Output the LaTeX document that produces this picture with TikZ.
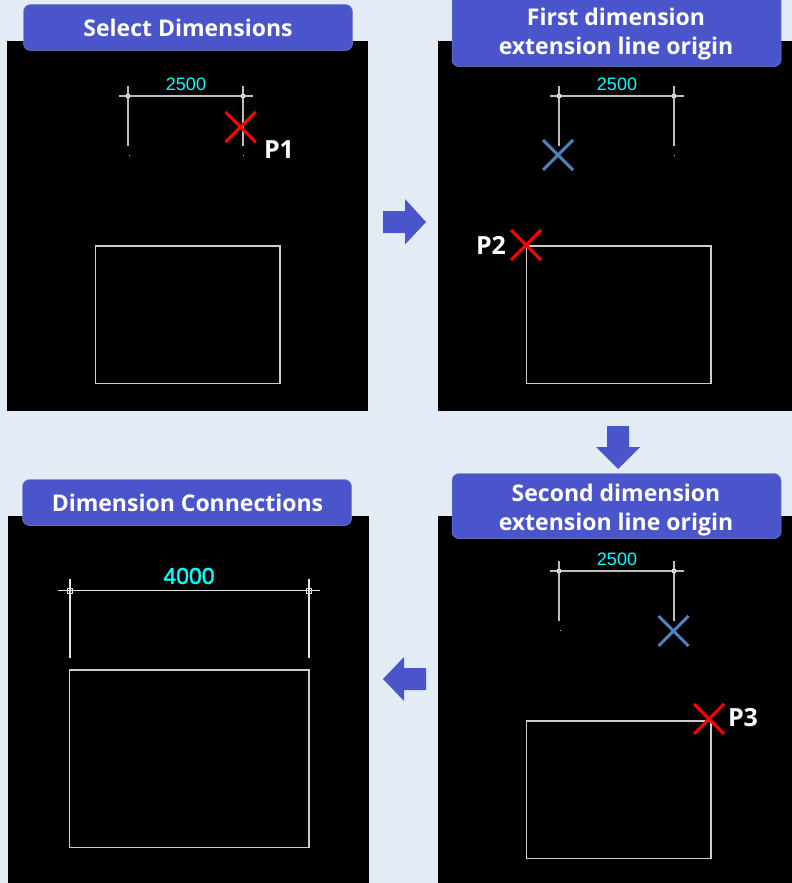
\documentclass[tikz,border=0pt]{standalone}
\usepackage{fontspec}
\setmainfont{Open Sans}
\newfontfamily\cadfont{Liberation Sans}
\newfontfamily\cadbold[FakeBold=1.5]{Liberation Sans}
\definecolor{pagebg}{HTML}{E3EBF5}
\definecolor{titleblue}{HTML}{4A55CC}
\definecolor{titleedge}{HTML}{7F88DC}
\definecolor{crossblue}{HTML}{4F81BD}
\definecolor{cadline}{HTML}{BEBEBE}
\definecolor{cadcyan}{HTML}{00FFFF}
\tikzset{
  panel/.style={fill=black,draw=none},
  titlebox/.style={fill=titleblue,draw=titleedge,line width=0.5pt,rounded corners=7pt},
  titletext/.style={text=white,font=\fontsize{23}{29}\selectfont\bfseries,align=center,inner sep=0pt},
  flowarrow/.style={fill=titleblue,draw=none},
  cadthin/.style={draw=cadline,line width=1.2pt},
  cadrect/.style={draw=white!80!black,line width=1.3pt},
  cadsq/.style={draw=white!90!black,line width=0.9pt},
  redcross/.style={draw=red,line width=3pt},
  bluecross/.style={draw=crossblue,line width=3pt},
  dimtext/.style={text=cadcyan,font=\cadfont\fontsize{18}{18}\selectfont,inner sep=0pt},
  ptlabel/.style={text=white,font=\fontsize{25}{28}\selectfont\bfseries,inner sep=0pt},
  tick/.style={fill=white!80!black,draw=none},
}
\newcommand{\smalldim}[3]{%
  % #1 = x of left extension line, #2 = y of dimension line, #3 = name prefix
  \draw[cadthin] (#1-9,#2) -- (#1+125,#2);
  \draw[cadthin] (#1,#2-10) -- (#1,#2+50);
  \draw[cadthin] (#1+115,#2-10) -- (#1+115,#2+50);
  \draw[cadsq] (#1-1.5,#2-1.5) rectangle (#1+1.5,#2+1.5);
  \draw[cadsq] (#1+113.5,#2-1.5) rectangle (#1+116.5,#2+1.5);
  \node[dimtext] (#3) at (#1+58,#2-12) {2500};
}
\newcommand{\crossmark}[3]{%
  \draw[#1] (#2-15,#3-15) -- (#2+15,#3+15);
  \draw[#1] (#2-15,#3+15) -- (#2+15,#3-15);
}
\begin{document}
\begin{tikzpicture}[x=1pt,y=-1pt]
\useasboundingbox (0,0) rectangle (792,883);
\fill[pagebg] (0,0) rectangle (792,883);
% panels
\fill[panel] (7,41) rectangle (368,411);
\fill[panel] (438,41) rectangle (792,411);
\fill[panel] (438,516) rectangle (792,883);
\fill[panel] (8,516) rectangle (369,883);
% title boxes
\draw[titlebox] (23.5,4.5) rectangle (352.5,50.5);
\node[titletext] (t1) at (188,28) {Select Dimensions};
\draw[titlebox] (452,-12) rectangle (781,66.5);
\node[titletext] (t2) at (616,34.5) {First dimension\\extension line origin};
\draw[titlebox] (452,473.5) rectangle (781,538.5);
\node[titletext] (t3) at (616,510) {Second dimension\\extension line origin};
\draw[titlebox] (22.5,479.5) rectangle (351.5,525.5);
\node[titletext] (t4) at (187.5,503) {Dimension Connections};
% flow arrows
\fill[flowarrow] (383,211) -- (405,211) -- (405,199) -- (426,222) -- (405,244.5) -- (405,233) -- (383,233) -- cycle;
\fill[flowarrow] (607,426) -- (629,426) -- (629,447) -- (640,447) -- (618,469) -- (596,447) -- (607,447) -- cycle;
\fill[flowarrow] (426,668) -- (404,668) -- (404,657) -- (383,679) -- (404,701) -- (404,690) -- (426,690) -- cycle;
% panel 1
\smalldim{128}{96}{d1}
\fill[tick] (128.5,155) rectangle (130,156);
\fill[tick] (242.5,155) rectangle (244,156);
\draw[cadrect] (95.8,246) rectangle (280,383.5);
\crossmark{redcross}{240.5}{127}
\node[ptlabel] (p1) at (279,150) {P1};
% panel 2
\smalldim{559}{96}{d2}
\fill[tick] (673.5,155) rectangle (675,156);
\draw[cadrect] (526.8,246) rectangle (711,383.5);
\crossmark{bluecross}{558}{155}
\crossmark{redcross}{526}{245}
\node[ptlabel] (p2) at (491,245) {P2};
% panel 3
\smalldim{559}{571}{d3}
\fill[tick] (559.5,630) rectangle (561,631);
\draw[cadrect] (526.8,721) rectangle (711,858.5);
\crossmark{bluecross}{673.5}{631}
\crossmark{redcross}{709}{719}
\node[ptlabel] (p3) at (743,718) {P3};
% panel 4
\draw[cadthin,draw=white!90!black] (58,590.5) -- (320,590.5);
\draw[cadthin,draw=white!90!black] (70,579) -- (70,658);
\draw[cadthin,draw=white!90!black] (309,579) -- (309,658);
\draw[cadsq] (67.5,588) rectangle (72.5,593);
\draw[cadsq] (306,588) rectangle (311,593);
\node[dimtext,font=\cadbold\fontsize{23}{23}\selectfont] (d4) at (189,576) {4000};
\draw[cadrect,line width=1.5pt] (69.5,670) rectangle (309,847.5);
\end{tikzpicture}
\end{document}
